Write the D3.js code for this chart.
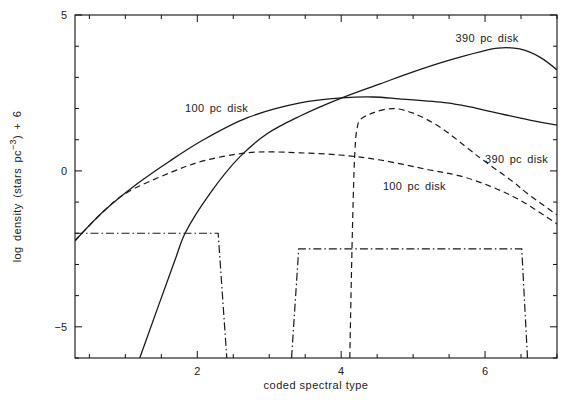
<!DOCTYPE html>
<html>
<head>
<meta charset="utf-8">
<script src="https://cdn.jsdelivr.net/npm/d3@7"></script>
<style>
  body { margin: 0; background: #fff; }
  text { font-family: "Liberation Sans", "DejaVu Sans", sans-serif; fill: #222; }
</style>
</head>
<body>
<svg width="570" height="400"></svg>
<script>
// curves (x = coded spectral type, y = log density + 6)
var solid100X = [0.3, 0.69, 1.16, 1.62, 2.08, 2.69, 3.43, 4.01, 4.44, 4.81, 5.47, 5.79, 6.16, 6.62, 7.0];
var solid100Y = [-2.24, -1.31, -0.42, 0.32, 0.99, 1.70, 2.18, 2.34, 2.37, 2.31, 2.18, 2.05, 1.86, 1.63, 1.47];

var solid390X = [1.2, 1.69, 1.83, 2.18, 2.59, 2.97, 3.43, 4.01, 4.54, 4.99, 5.47, 5.93, 6.18, 6.48, 6.76, 7.0];
var solid390Y = [-6, -2.86, -2.0, -0.71, 0.45, 1.19, 1.76, 2.34, 2.79, 3.17, 3.53, 3.82, 3.94, 3.91, 3.65, 3.24];

var dashed100X = [0.3, 0.69, 0.99, 1.62, 2.08, 2.69, 3.01, 3.43, 3.98, 4.54, 5.23, 5.65, 6.06, 6.48, 7.0];
var dashed100Y = [-2.24, -1.31, -0.74, -0.06, 0.32, 0.58, 0.61, 0.58, 0.51, 0.35, 0.03, -0.16, -0.48, -0.93, -1.70];

var dashed390X = [4.12, 4.19, 4.22, 4.26, 4.44, 4.72, 4.99, 5.37, 5.79, 5.97, 6.39, 6.58, 7.0];
var dashed390Y = [-6, 0.6, 1.35, 1.63, 1.86, 2.0, 1.86, 1.41, 0.67, 0.35, -0.35, -0.71, -1.41];

// the two flat-topped windows (dash-dot)
var window1X = [0.3, 2.29, 2.41];
var window1Y = [-2, -2, -6];
var window2X = [3.31, 3.41, 6.51, 6.59];
var window2Y = [-6, -2.5, -2.5, -6];

var xTickLabels = [2, 4, 6];
var yTickLabels = [-5, 0, 5];

var labels = [
  {text: "390 pc disk", x: 5.59, y: 4.13},
  {text: "100 pc disk", x: 1.83, y: 1.9},
  {text: "390 pc disk", x: 6.0, y: 0.26},
  {text: "100 pc disk", x: 4.58, y: -0.62}
];

var svg = d3.select("svg");
var plotLeft = 75, plotRight = 557, plotTop = 15, plotBottom = 358;

var x = d3.scaleLinear().domain([0.3, 7]).range([plotLeft, plotRight]);
var y = d3.scaleLinear().domain([-6, 5]).range([plotBottom, plotTop]);

var g = svg.append("g");

// frame
g.append("rect")
  .attr("x", plotLeft).attr("y", plotTop)
  .attr("width", plotRight - plotLeft).attr("height", plotBottom - plotTop)
  .attr("fill", "none").attr("stroke", "#111").attr("stroke-width", 1.1);

// inward ticks on all four sides
var xt = d3.range(0.5, 7.01, 0.5);
xt.forEach(function(v) {
  var len = (v % 2 === 0) ? 7 : 4;
  g.append("line").attr("x1", x(v)).attr("x2", x(v)).attr("y1", plotBottom).attr("y2", plotBottom - len).attr("stroke", "#111");
  g.append("line").attr("x1", x(v)).attr("x2", x(v)).attr("y1", plotTop).attr("y2", plotTop + len).attr("stroke", "#111");
});
var yt = d3.range(-6, 5.01, 1);
yt.forEach(function(v) {
  var len = (v % 5 === 0) ? 7 : 4;
  g.append("line").attr("y1", y(v)).attr("y2", y(v)).attr("x1", plotLeft).attr("x2", plotLeft + len).attr("stroke", "#111");
  g.append("line").attr("y1", y(v)).attr("y2", y(v)).attr("x1", plotRight).attr("x2", plotRight - len).attr("stroke", "#111");
});

g.selectAll(".xl").data(xTickLabels).enter().append("text")
  .attr("x", function(d) { return x(d); })
  .attr("y", 375)
  .attr("text-anchor", "middle")
  .attr("font-size", 11)
  .text(function(d) { return d; });

g.selectAll(".yl").data(yTickLabels).enter().append("text")
  .attr("x", 67)
  .attr("y", function(d) { return y(d) + 4; })
  .attr("text-anchor", "end")
  .attr("font-size", 11)
  .text(function(d) { return d < 0 ? "\u2212" + Math.abs(d) : d; });

// axis titles
g.append("text")
  .attr("x", (plotLeft + plotRight) / 2).attr("y", 389)
  .attr("text-anchor", "middle")
  .attr("font-size", 11)
  .attr("letter-spacing", 0.5)
  .text("coded spectral type");

var yTitle = g.append("text")
  .attr("transform", "translate(21," + (plotTop + plotBottom) / 2 + ") rotate(-90)")
  .attr("text-anchor", "middle")
  .attr("font-size", 11)
  .attr("letter-spacing", 0.4)
  .attr("word-spacing", 2);
yTitle.append("tspan").text("log density (stars  pc");
yTitle.append("tspan").attr("dy", -5).attr("font-size", 9).text("\u22123");
yTitle.append("tspan").attr("dy", 5).text(") + 6");

var line = d3.line()
  .x(function(d) { return x(d[0]); })
  .y(function(d) { return y(d[1]); })
  .curve(d3.curveCatmullRom.alpha(0.5));

var straight = d3.line()
  .x(function(d) { return x(d[0]); })
  .y(function(d) { return y(d[1]); });

function pts(xs, ys) { return d3.zip(xs, ys); }

svg.append("clipPath").attr("id", "clip")
  .append("rect").attr("x", plotLeft).attr("y", plotTop).attr("width", plotRight - plotLeft).attr("height", plotBottom - plotTop);

var plot = svg.append("g").attr("clip-path", "url(#clip)")
  .attr("fill", "none").attr("stroke", "#1a1a1a");

plot.append("path").attr("d", line(pts(solid100X, solid100Y))).attr("stroke-width", 1.3);
plot.append("path").attr("d", line(pts(solid390X, solid390Y))).attr("stroke-width", 1.3);
plot.append("path").attr("d", line(pts(dashed100X, dashed100Y))).attr("stroke-width", 1.2).attr("stroke-dasharray", "6,4");
plot.append("path").attr("d", line(pts(dashed390X, dashed390Y))).attr("stroke-width", 1.2).attr("stroke-dasharray", "6,4");
plot.append("path").attr("d", straight(pts(window1X, window1Y))).attr("stroke-width", 1.2).attr("stroke-dasharray", "8,3,1.5,3");
plot.append("path").attr("d", straight(pts(window2X, window2Y))).attr("stroke-width", 1.2).attr("stroke-dasharray", "8,3,1.5,3");

g.selectAll(".lab").data(labels).enter().append("text")
  .attr("x", function(d) { return x(d.x); })
  .attr("y", function(d) { return y(d.y); })
  .attr("font-size", 11)
  .attr("letter-spacing", 0.3)
  .attr("word-spacing", 2)
  .text(function(d) { return d.text; });
</script>
</body>
</html>
